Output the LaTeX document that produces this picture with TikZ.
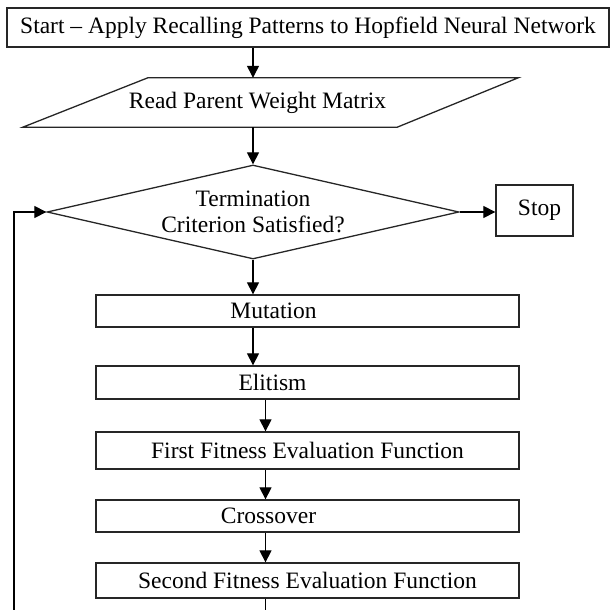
\documentclass[tikz,border=0pt]{standalone}
\usepackage{fontspec}
\setmainfont{Liberation Serif}
\usetikzlibrary{shapes.geometric, arrows.meta, positioning, calc}

\begin{document}
\begin{tikzpicture}[x=1pt, y=-1pt,
    font=\fontsize{23.5}{26}\selectfont,
    box/.style={draw=black!85, line width=1.3pt, minimum width=#1, inner sep=0pt},
    stepbox/.style={box=423pt, minimum height=#1},
    flow/.style={draw=black, line width=1.2pt, -{Triangle[length=12pt, width=12pt]}}
]
    \useasboundingbox (0,0) rectangle (610,610);

    \node[box=602pt, minimum height=39pt] (start) at (308,27.5) {Start -- Apply Recalling Patterns to Hopfield Neural Network};

    \node[minimum width=495pt, minimum height=49pt, inner sep=0pt,
          label={[xshift=-13pt]center:Read Parent Weight Matrix}] (read) at (270.5,102.5) {};
    \draw[draw=black!85, line width=1.3pt, line join=miter]
        (read.south west) -- ([xshift=-121pt]read.south east) -- (read.north east)
        -- ([xshift=125pt]read.north west) -- cycle;

    \node[draw=black!85, line width=1.3pt, diamond, aspect=4.38, minimum width=412pt, minimum height=94pt,
          inner sep=0pt, align=center] (term) at (253,212) {Termination\\Criterion Satisfied?};

    \node[box=77pt, minimum height=51pt] (stop) at (534.5,210.5) {\hspace*{10pt}Stop};

    \node[stepbox=32pt, label={[xshift=-34pt]center:Mutation}] (mutation) at (307.5,311) {};
    \node[stepbox=33pt, label={[xshift=-35pt]center:Elitism}] (elitism) at (307.5,382.5) {};
    \node[stepbox=37pt] (first) at (307.5,450.5) {First Fitness Evaluation Function};
    \node[stepbox=32pt, label={[xshift=-39pt]center:Crossover}] (crossover) at (307.5,516) {};
    \node[stepbox=35pt] (second) at (307.5,580.5) {Second Fitness Evaluation Function};

    \coordinate (loopfoot) at (14,610);
    \coordinate (outfoot) at (265.5,610);

    \draw[flow] (start.south -| term.north) -- (read.north -| term.north);
    \draw[flow] (read.south -| term.north) -- (term.north);
    \draw[flow] (term.east) -- (term.east -| stop.west);
    \draw[flow] (term.south) -- (mutation.north -| term.south);
    \draw[flow] (mutation.south -| term.south) -- (elitism.north -| term.south);
    \draw[flow] ([xshift=-42pt]elitism.south) -- ([xshift=-42pt]first.north);
    \draw[flow] ([xshift=-42pt]first.south) -- ([xshift=-42pt]crossover.north);
    \draw[flow] ([xshift=-42pt]crossover.south) -- ([xshift=-42pt]second.north);
    \draw[draw=black, line width=1.2pt] ([xshift=-42pt]second.south) -- (outfoot);
    \draw[flow] (loopfoot) |- (term.west);
\end{tikzpicture}
\end{document}
